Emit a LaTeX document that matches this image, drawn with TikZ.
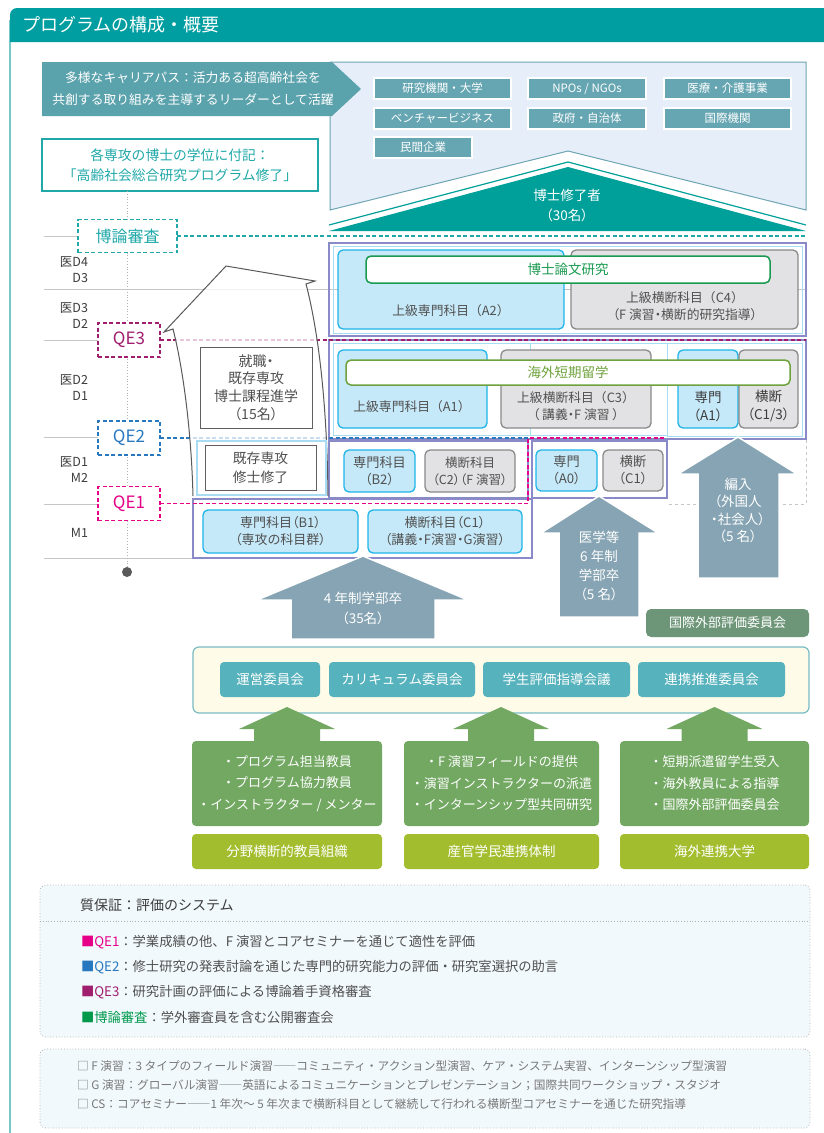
\documentclass[tikz,border=0pt]{standalone}
\usepackage{fontspec}
\setmainfont{Noto Sans CJK JP}
\newfontfamily\pf{Noto Sans CJK JP}[RawFeature=+palt]
\usetikzlibrary{calc}
\newcommand\fsz[2]{\fontsize{#1}{#2}\selectfont}
\newcommand\pbox[7]{\node[#1,anchor=north west,minimum width={#5-#3},minimum height={#6-#4}] (#2) at (#3,#4) {#7};}
\definecolor{hdr}{RGB}{0,158,160}
\definecolor{frameC}{RGB}{120,200,200}
\definecolor{banner}{RGB}{90,162,172}
\definecolor{tag}{RGB}{102,166,178}
\definecolor{panel}{RGB}{230,239,249}
\definecolor{panelB}{RGB}{110,165,178}
\definecolor{roof}{RGB}{0,160,154}
\definecolor{tealT}{RGB}{32,168,168}
\definecolor{qeone}{RGB}{230,0,135}
\definecolor{qetwo}{RGB}{40,120,192}
\definecolor{qethree}{RGB}{160,30,110}
\definecolor{violetC}{RGB}{138,138,200}
\definecolor{lbline}{RGB}{168,220,242}
\definecolor{lbfill}{RGB}{198,233,249}
\definecolor{lbborder}{RGB}{30,180,232}
\definecolor{gyfill}{RGB}{226,226,228}
\definecolor{gyborder}{RGB}{138,138,138}
\definecolor{txt}{RGB}{80,80,80}
\definecolor{ytxt}{RGB}{60,60,60}
\definecolor{dgreen}{RGB}{26,154,80}
\definecolor{olive}{RGB}{110,162,60}
\definecolor{bigarrow}{RGB}{134,164,179}
\definecolor{iec}{RGB}{109,150,121}
\definecolor{cband}{RGB}{254,251,232}
\definecolor{cbandB}{RGB}{120,188,196}
\definecolor{cbox}{RGB}{86,178,188}
\definecolor{garrow}{RGB}{114,168,98}
\definecolor{ygreen}{RGB}{162,190,46}
\definecolor{qfill}{RGB}{242,249,253}
\definecolor{legG}{RGB}{0,153,76}
\definecolor{ntxt}{RGB}{120,120,120}
\begin{document}
\begin{tikzpicture}[x=1pt,y=-1pt,
  every node/.style={outer sep=0pt},
  lbb/.style={draw=lbborder, fill=lbfill, line width=1.3pt, rounded corners=5pt, inner sep=1pt, text=txt, align=center, font=\fsz{12.8}{17}},
  gyb/.style={draw=gyborder, fill=gyfill, line width=1.3pt, rounded corners=5pt, inner sep=1pt, text=txt, align=center, font=\fsz{12.8}{17}},
  btxt/.style={text=txt, align=center, inner sep=0pt, font=\fsz{12.8}{17}},
  tagb/.style={fill=tag, draw=white, line width=1.2pt, text=white, inner sep=0pt, font=\fsz{11.5}{14}},
  qeb/.style={draw=#1, text=#1, fill=white, line width=1.6pt, dash pattern=on 4pt off 2.5pt, inner sep=0pt, font=\fsz{17}{20}},
  qel/.style={draw=#1, line width=1.6pt, dash pattern=on 4pt off 2.5pt},
  yl/.style={draw=gray!45, line width=0.6pt},
  ylab/.style={anchor=east, align=right, text=ytxt, inner sep=0pt, font=\fsz{12.5}{16}},
  wtxt/.style={text=white, align=center, inner sep=0pt, font=\pf\fsz{13}{19}},
  wbox/.style={draw=#1, text=#1, fill=white, line width=1.5pt, rounded corners=5pt, inner sep=0pt, font=\fsz{13.5}{16}},
  cbx/.style={fill=cbox, rounded corners=4pt, text=white, inner sep=0pt, font=\fsz{13.5}{16}},
  gbx/.style={fill=garrow, rounded corners=4pt, text=white, inner sep=0pt, align=center, font=\fsz{13}{21.5}},
  ygb/.style={fill=ygreen, rounded corners=4pt, text=white, inner sep=0pt, font=\fsz{13.5}{16}},
  plainbox/.style={draw=gray!75!black, fill=white, line width=1pt, inner sep=0pt, text=txt, align=center},
  ]
\useasboundingbox (0,0) rectangle (824,1133);
\fill[white] (0,0) rectangle (824,1133);
% frame and header
\draw[frameC, line width=1.2pt] (10,20) -- (10,1140);
\fill[hdr] (10,42) [rounded corners=7pt] -- (10,8) -- (836,8) [sharp corners] -- (836,42) -- cycle;
\node[anchor=west, text=white, inner sep=0pt, font=\fsz{18}{20}] (title) at (22,25) {プログラムの構成・概要};

% career panel
\draw[panelB, fill=panel, line width=1pt] (330,62) -- (806,62) -- (806,210) -- (568,151) -- (330,210) -- cycle;
\fill[banner] (42,62) -- (332,62) -- (361,89) -- (332,116) -- (42,116) -- cycle;
\node[text=white, align=center, inner sep=0pt, font=\fsz{12.8}{22}] (career) at (193,89) {多様なキャリアパス：活力ある超高齢社会を\\共創する取り組みを主導するリーダーとして活躍};
\pbox{tagb}{t1}{374}{78}{511}{99}{研究機関・大学}
\pbox{tagb}{t2}{528}{78}{646}{99}{NPOs / NGOs}
\pbox{tagb}{t3}{664}{78}{791}{99}{医療・介護事業}
\pbox{tagb}{t4}{374}{108}{511}{129}{ベンチャービジネス}
\pbox{tagb}{t5}{528}{108}{646}{129}{政府・自治体}
\pbox{tagb}{t6}{664}{108}{791}{129}{国際機関}
\pbox{tagb}{t7}{374}{137}{472}{158}{民間企業}
% roof
\draw[roof, line width=1.2pt] (329,225) -- (568,162) -- (806,225);
\fill[roof] (329,231) -- (568,167) -- (806,231) -- cycle;
\node[wtxt, font=\pf\fsz{13.5}{20}] (grad) at (567,205) {博士修了者\\（30名）};

% note box
\pbox{draw=tealT, fill=white, line width=1.5pt, text=tealT, align=center, inner sep=0pt, font=\fsz{13.8}{20}}{note}{42}{139}{318}{191}{各専攻の博士の学位に付記：\\「高齢社会総合研究プログラム修了」}

% year lines
\draw[yl] (44,236) -- (80,236);
\draw[yl] (44,289) -- (806,289);
\draw[yl] (44,340) -- (100,340);
\draw[yl] (44,437) -- (100,437);
\draw[yl] (44,504) -- (100,504);
\draw[yl] (44,558) -- (193,558);
\draw[gray!45, dashed, line width=0.6pt] (806,440) -- (806,504) -- (667,504);
% timeline
\coordinate (tl0) at (127,191);
\node[circle, fill=gray!70!black, minimum size=10pt, inner sep=0pt] (dot) at (127,572) {};
\draw[gray!60, dotted, line width=0.8pt] (tl0) -- (dot.north);

% grid frames
\draw[violetC, line width=1.2pt] (329,243) rectangle (806,336);
\draw[lbline, line width=1pt] (333,246) rectangle (802,333);
\draw[violetC, line width=1.2pt] (329,340) rectangle (806,439);
\draw[lbline, line width=1pt] (333,343) rectangle (667,435);
\draw[lbline, line width=1pt] (530,343) -- (530,435);
\draw[lbline, line width=1pt] (667,343) rectangle (802,436);
\draw[violetC, line width=1.2pt] (329,441) rectangle (528,498);
\draw[violetC, line width=1.2pt] (532,441) rectangle (667,498);
\draw[violetC, line width=1.2pt] (193,499) rectangle (532,558);

% QE boxes
\node[qeb=tealT, font=\fsz{16}{18}, minimum width=99pt, minimum height=33pt] (bq) at (127.5,236) {博論審査};
\node[qeb=qethree, minimum width=62pt, minimum height=34pt] (qe3) at (129,340) {QE3};
\node[qeb=qetwo, minimum width=62pt, minimum height=34pt] (qe2) at (129,438) {QE2};
\node[qeb=qeone, minimum width=62pt, minimum height=34pt] (qe1) at (129,503.5) {QE1};
\coordinate (bqe) at (806,236);
\coordinate (qe3e) at (806,340);
\coordinate (qe2e) at (528,438);
\coordinate (qe1a) at (528,503.5);
\coordinate (qe1b) at (528,438);
\coordinate (qe1e) at (665,438);
\draw[qel=tealT] (bq.east) -- (bqe);
\draw[qel=qethree] (qe3.east) -- (qe3e);
\draw[qel=qetwo] (qe2.east) -- (qe2e);
\draw[qel=qeone] (qe1.east) -- (qe1a) -- (qe1b) -- (qe1e);

% curved arrow
\draw[gray!70!black, line width=1pt, fill=white, fill opacity=0.75] (193,496) .. controls (191,420) and (181,360) .. (173,329) -- (164,332) -- (226,266) -- (315,281) -- (306,284) .. controls (318,330) and (327,400) .. (328,496);

% left boxes
\pbox{plainbox, font=\pf\fsz{14}{17.7}}{job}{200}{347}{312}{428}{就職・\\既存専攻\\博士課程進学\\（15名）}
\draw[lbline, line width=1.2pt] (197,441) rectangle (326,495);
\pbox{plainbox, font=\pf\fsz{13.8}{19}}{msc}{205}{445}{316}{490}{既存専攻\\修士修了}

% row D3/D4
\pbox{lbb}{a2}{338}{250}{564}{329}{}
\pbox{gyb}{c4}{571}{250}{798}{329}{}
\node[btxt] (a2t) at (451,311) {上級専門科目（A2）};
\node[btxt] (c4t) at (685,306.5) {上級横断科目（C4）\\{\pf（F 演習・横断的研究指導）}};
\pbox{wbox=dgreen}{thesis}{366}{256}{770}{283}{博士論文研究}
% row D1/D2
\pbox{lbb}{a1}{338}{350}{487}{428}{}
\pbox{gyb}{c3}{501}{350}{651}{428}{}
\pbox{lbb}{a1b}{678}{350}{738}{428}{}
\pbox{gyb}{c13}{739}{350}{798}{428}{}
\node[btxt] (a1t) at (412,407) {上級専門科目（A1）};
\node[btxt] (c3t) at (576,406) {上級横断科目（C3）\\{\pf（ 講義・F 演習 ）}};
\node[btxt, text=ytxt, font=\pf\fsz{13.5}{18}] (a1bt) at (708,406) {専門\\（A1）};
\node[btxt, text=ytxt, font=\pf\fsz{13.5}{18}] (c13t) at (768.5,406) {横断\\（C1/3）};
\pbox{wbox=olive}{abroad}{346}{360}{790}{385}{海外短期留学}
% row M2/D1
\pbox{lbb, font=\pf\fsz{13.2}{17}}{b2}{344}{450}{415}{492}{専門科目\\（B2）}
\pbox{gyb, font=\pf\fsz{12.5}{17}}{c2}{425}{450}{515}{492}{横断科目\\（C2）（F 演習）}
\pbox{lbb, font=\pf\fsz{13.2}{17}}{a0}{536}{450}{597}{491}{専門\\（A0）}
\pbox{gyb, font=\pf\fsz{13.2}{17}}{c1b}{603}{450}{663}{491}{横断\\（C1）}
% row M1
\pbox{lbb, font=\pf\fsz{13}{17}}{b1}{203}{510}{358}{553}{専門科目（B1）\\（専攻の科目群）}
\pbox{lbb, font=\pf\fsz{13}{17}}{c1}{368}{510}{522}{553}{横断科目（C1）\\（講義・F演習・G演習）}

% year labels
\node[ylab] (y1) at (88,270) {医D4\\D3};
\node[ylab] (y2) at (88,315.5) {医D3\\D2};
\node[ylab] (y3) at (88,387.5) {医D2\\D1};
\node[ylab] (y4) at (88,470) {医D1\\M2};
\node[ylab] (y5) at (88,533) {M1};

% entry arrows
\fill[bigarrow, draw=white, line width=1.5pt] (363,556) -- (468,600) -- (435,600) -- (435,639) -- (291,639) -- (291,600) -- (257,600) -- cycle;
\node[wtxt, font=\pf\fsz{13.5}{20}] (ar1) at (363,608) {4 年制学部卒\\（35名）};
\fill[bigarrow, draw=white, line width=1.5pt] (599,496) -- (658,533) -- (639,533) -- (639,617) -- (559,617) -- (559,533) -- (541,533) -- cycle;
\node[wtxt, font=\pf\fsz{13.5}{19}] (ar2) at (599,565.5) {医学等\\6 年制\\学部卒\\（5 名）};
\fill[bigarrow, draw=white, line width=1.5pt] (738,437) -- (797,474) -- (779,474) -- (779,578) -- (698,578) -- (698,474) -- (678,474) -- cycle;
\node[wtxt, font=\pf\fsz{13.5}{17.5}] (ar3) at (738,510.5) {編入\\（外国人\\・社会人）\\（5 名）};

% committees
\pbox{fill=iec, rounded corners=5pt, text=white, inner sep=0pt, font=\fsz{13}{16}}{iecb}{646}{609}{809}{637}{国際外部評価委員会}
\pbox{draw=cbandB, fill=cband, line width=1.2pt, rounded corners=6pt}{band}{193}{647}{809}{713}{}
\pbox{cbx}{k1}{220}{662}{320}{697}{運営委員会}
\pbox{cbx}{k2}{329}{662}{475}{697}{カリキュラム委員会}
\pbox{cbx}{k3}{483}{662}{630}{697}{学生評価指導会議}
\pbox{cbx}{k4}{638}{662}{785}{697}{連携推進委員会}
\foreach \x/\n in {287/ga1,501/ga2,714.5/ga3}{
  \fill[garrow] (\x,707) -- ({\x+48},729) -- ({\x+33},729) -- ({\x+33},742) -- ({\x-33},742) -- ({\x-33},729) -- ({\x-48},729) -- cycle;
}
\pbox{gbx}{g1}{192}{741}{382}{826}{・プログラム担当教員\\・プログラム協力教員\\・インストラクター / メンター}
\pbox{gbx}{g2}{404}{741}{599}{826}{・F 演習フィールドの提供\\・演習インストラクターの派遣\\・インターンシップ型共同研究}
\pbox{gbx}{g3}{620}{741}{809}{826}{・短期派遣留学生受入\\・海外教員による指導\\・国際外部評価委員会}
\pbox{ygb}{y1b}{192}{834}{382}{869}{分野横断的教員組織}
\pbox{ygb}{y2b}{404}{834}{599}{869}{産官学民連携体制}
\pbox{ygb}{y3b}{620}{834}{809}{869}{海外連携大学}

% quality box
\pbox{draw=gray!60, dotted, fill=qfill, rounded corners=6pt, line width=0.8pt}{qbox}{40}{885}{810}{1037}{}
\draw[gray!60, dotted, line width=0.8pt] (qbox.west |- 0,921) -- (qbox.east |- 0,921);
\node[anchor=west, inner sep=0pt, text=ytxt, font=\fsz{14}{16}] (qtitle) at (80,905) {質保証：評価のシステム};
\node[anchor=west, inner sep=0pt, text=txt, font=\fsz{13.3}{16}] (q1) at (81,942) {{\color{qeone}■QE1}：学業成績の他、F 演習とコアセミナーを通じて適性を評価};
\node[anchor=west, inner sep=0pt, text=txt, font=\fsz{13.3}{16}] (q2) at (81,967) {{\color{qetwo}■QE2}：修士研究の発表討論を通じた専門的研究能力の評価・研究室選択の助言};
\node[anchor=west, inner sep=0pt, text=txt, font=\fsz{13.3}{16}] (q3) at (81,992) {{\color{qethree}■QE3}：研究計画の評価による博論着手資格審査};
\node[anchor=west, inner sep=0pt, text=txt, font=\fsz{13.3}{16}] (q4) at (81,1017) {{\color{legG}■博論審査}：学外審査員を含む公開審査会};

% notes box
\pbox{draw=gray!60, dotted, fill=qfill, rounded corners=6pt, line width=0.8pt}{nbox}{40}{1049}{810}{1128}{}
\node[anchor=west, inner sep=0pt, text=ntxt, font=\fsz{11.7}{14}] (n1) at (77,1066) {□ F 演習：3 タイプのフィールド演習――コミュニティ・アクション型演習、ケア・システム実習、インターンシップ型演習};
\node[anchor=west, inner sep=0pt, text=ntxt, font=\fsz{11.7}{14}] (n2) at (77,1085) {□ G 演習：グローバル演習――英語によるコミュニケーションとプレゼンテーション；国際共同ワークショップ・スタジオ};
\node[anchor=west, inner sep=0pt, text=ntxt, font=\fsz{11.7}{14}] (n3) at (77,1104) {□ CS：コアセミナー――1 年次～ 5 年次まで横断科目として継続して行われる横断型コアセミナーを通じた研究指導};
\end{tikzpicture}
\end{document}
